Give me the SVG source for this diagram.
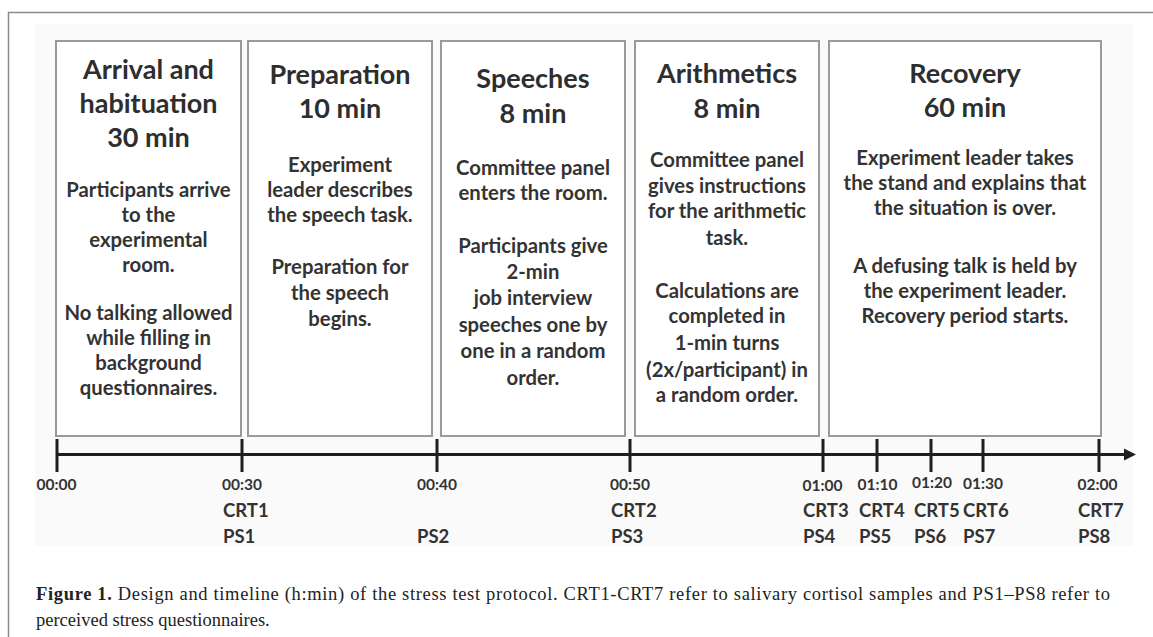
<svg xmlns="http://www.w3.org/2000/svg" width="1153" height="637" viewBox="0 0 1153 637">
<defs>
<style>
.frame{fill:none;stroke:#8a8a8a;stroke-width:1.5}
.box{fill:#ffffff;stroke:#9a9a9a;stroke-width:2}
.title{font-family:Lato,"Open Sans","Liberation Sans",sans-serif;font-weight:bold;font-size:27px;fill:#2e2e2e;text-anchor:middle}
.body{font-family:Lato,"Open Sans","Liberation Sans",sans-serif;font-weight:bold;font-size:20.3px;fill:#333333;text-anchor:middle}
.time{font-family:Lato,"Open Sans","Liberation Sans",sans-serif;font-weight:bold;font-size:15.5px;fill:#333333;text-anchor:middle}
.samp{font-family:Lato,"Open Sans","Liberation Sans",sans-serif;font-weight:bold;font-size:18.5px;fill:#333333}
.axis{stroke:#1e1e1e;stroke-width:3;fill:none}
.cap{font-family:"Liberation Serif","Times New Roman",serif;font-size:18.5px;fill:#222222}
</style>
</defs>
<rect x="0" y="0" width="1153" height="637" fill="#ffffff"/>
<rect x="35" y="24" width="1098" height="522" fill="#fafafa"/>
<path class="frame" d="M8.5,637 L8.5,12.5 L1153,12.5"/>

<g id="box-arrival">
<rect class="box" x="56" y="41" width="185" height="395"/>
<text class="title" x="148.5" y="79">Arrival and</text>
<text class="title" x="148.5" y="113">habituation</text>
<text class="title" x="148.5" y="147">30 min</text>
<text class="body" x="148.5" y="197">Participants arrive</text>
<text class="body" x="148.5" y="222">to the</text>
<text class="body" x="148.5" y="247">experimental</text>
<text class="body" x="148.5" y="272">room.</text>
<text class="body" x="148.5" y="320">No talking allowed</text>
<text class="body" x="148.5" y="345">while filling in</text>
<text class="body" x="148.5" y="370">background</text>
<text class="body" x="148.5" y="395">questionnaires.</text>
</g>

<g id="box-preparation">
<rect class="box" x="248" y="41" width="184" height="395"/>
<text class="title" x="340" y="84">Preparation</text>
<text class="title" x="340" y="118">10 min</text>
<text class="body" x="340" y="172">Experiment</text>
<text class="body" x="340" y="197">leader describes</text>
<text class="body" x="340" y="222">the speech task.</text>
<text class="body" x="340" y="274">Preparation for</text>
<text class="body" x="340" y="300">the speech</text>
<text class="body" x="340" y="326">begins.</text>
</g>

<g id="box-speeches">
<rect class="box" x="441" y="41" width="184" height="395"/>
<text class="title" x="533" y="88">Speeches</text>
<text class="title" x="533" y="123">8 min</text>
<text class="body" x="533" y="175">Committee panel</text>
<text class="body" x="533" y="200">enters the room.</text>
<text class="body" x="533" y="253">Participants give</text>
<text class="body" x="533" y="279">2-min</text>
<text class="body" x="533" y="305">job interview</text>
<text class="body" x="533" y="332">speeches one by</text>
<text class="body" x="533" y="358">one in a random</text>
<text class="body" x="533" y="385">order.</text>
</g>

<g id="box-arithmetics">
<rect class="box" x="635" y="41" width="184" height="395"/>
<text class="title" x="727" y="83">Arithmetics</text>
<text class="title" x="727" y="118">8 min</text>
<text class="body" x="727" y="167">Committee panel</text>
<text class="body" x="727" y="193">gives instructions</text>
<text class="body" x="727" y="218">for the arithmetic</text>
<text class="body" x="727" y="245">task.</text>
<text class="body" x="727" y="298">Calculations are</text>
<text class="body" x="727" y="323">completed in</text>
<text class="body" x="727" y="350">1-min turns</text>
<text class="body" x="727" y="377">(2x/participant) in</text>
<text class="body" x="727" y="402">a random order.</text>
</g>

<g id="box-recovery">
<rect class="box" x="829" y="41" width="272" height="395"/>
<text class="title" x="965" y="83">Recovery</text>
<text class="title" x="965" y="117">60 min</text>
<text class="body" x="965" y="165">Experiment leader takes</text>
<text class="body" x="965" y="190">the stand and explains that</text>
<text class="body" x="965" y="215">the situation is over.</text>
<text class="body" x="965" y="273">A defusing talk is held by</text>
<text class="body" x="965" y="298">the experiment leader.</text>
<text class="body" x="965" y="323">Recovery period starts.</text>
</g>

<g id="connectors">
<line class="axis" x1="57" y1="454.5" x2="1126" y2="454.5"/>
<path d="M1124,448.5 L1136,454.5 L1124,460.5 Z" fill="#1e1e1e"/>
<g class="axis">
<line x1="57" y1="439" x2="57" y2="472"/>
<line x1="242" y1="439" x2="242" y2="472"/>
<line x1="437" y1="439" x2="437" y2="472"/>
<line x1="630" y1="439" x2="630" y2="472"/>
<line x1="823" y1="439" x2="823" y2="472"/>
<line x1="877" y1="439" x2="877" y2="472"/>
<line x1="931" y1="439" x2="931" y2="472"/>
<line x1="983" y1="439" x2="983" y2="472"/>
<line x1="1099" y1="439" x2="1099" y2="472"/>
</g>
</g>

<g id="timeline-labels">
<text class="time" x="56.5" y="490">00:00</text>
<text class="time" x="242" y="490">00:30</text>
<text class="time" x="437" y="490">00:40</text>
<text class="time" x="630" y="490">00:50</text>
<text class="time" x="822.5" y="491">01:00</text>
<text class="time" x="877.5" y="490">01:10</text>
<text class="time" x="932" y="488">01:20</text>
<text class="time" x="983" y="489">01:30</text>
<text class="time" x="1097.5" y="490">02:00</text>
<text class="samp" x="223" y="517">CRT1</text>
<text class="samp" x="223" y="543">PS1</text>
<text class="samp" x="417" y="543">PS2</text>
<text class="samp" x="611" y="517">CRT2</text>
<text class="samp" x="611" y="543">PS3</text>
<text class="samp" x="803" y="517">CRT3</text>
<text class="samp" x="803" y="543">PS4</text>
<text class="samp" x="859" y="517">CRT4</text>
<text class="samp" x="859" y="543">PS5</text>
<text class="samp" x="914" y="517">CRT5</text>
<text class="samp" x="914" y="543">PS6</text>
<text class="samp" x="963" y="517">CRT6</text>
<text class="samp" x="963" y="543">PS7</text>
<text class="samp" x="1078" y="517">CRT7</text>
<text class="samp" x="1078" y="543">PS8</text>
</g>

<g id="caption">
<text class="cap" x="36" y="600" textLength="1074" lengthAdjust="spacing"><tspan font-weight="bold">Figure 1.</tspan> Design and timeline (h:min) of the stress test protocol. CRT1-CRT7 refer to salivary cortisol samples and PS1–PS8 refer to</text>
<text class="cap" x="36" y="626">perceived stress questionnaires.</text>
</g>
</svg>
